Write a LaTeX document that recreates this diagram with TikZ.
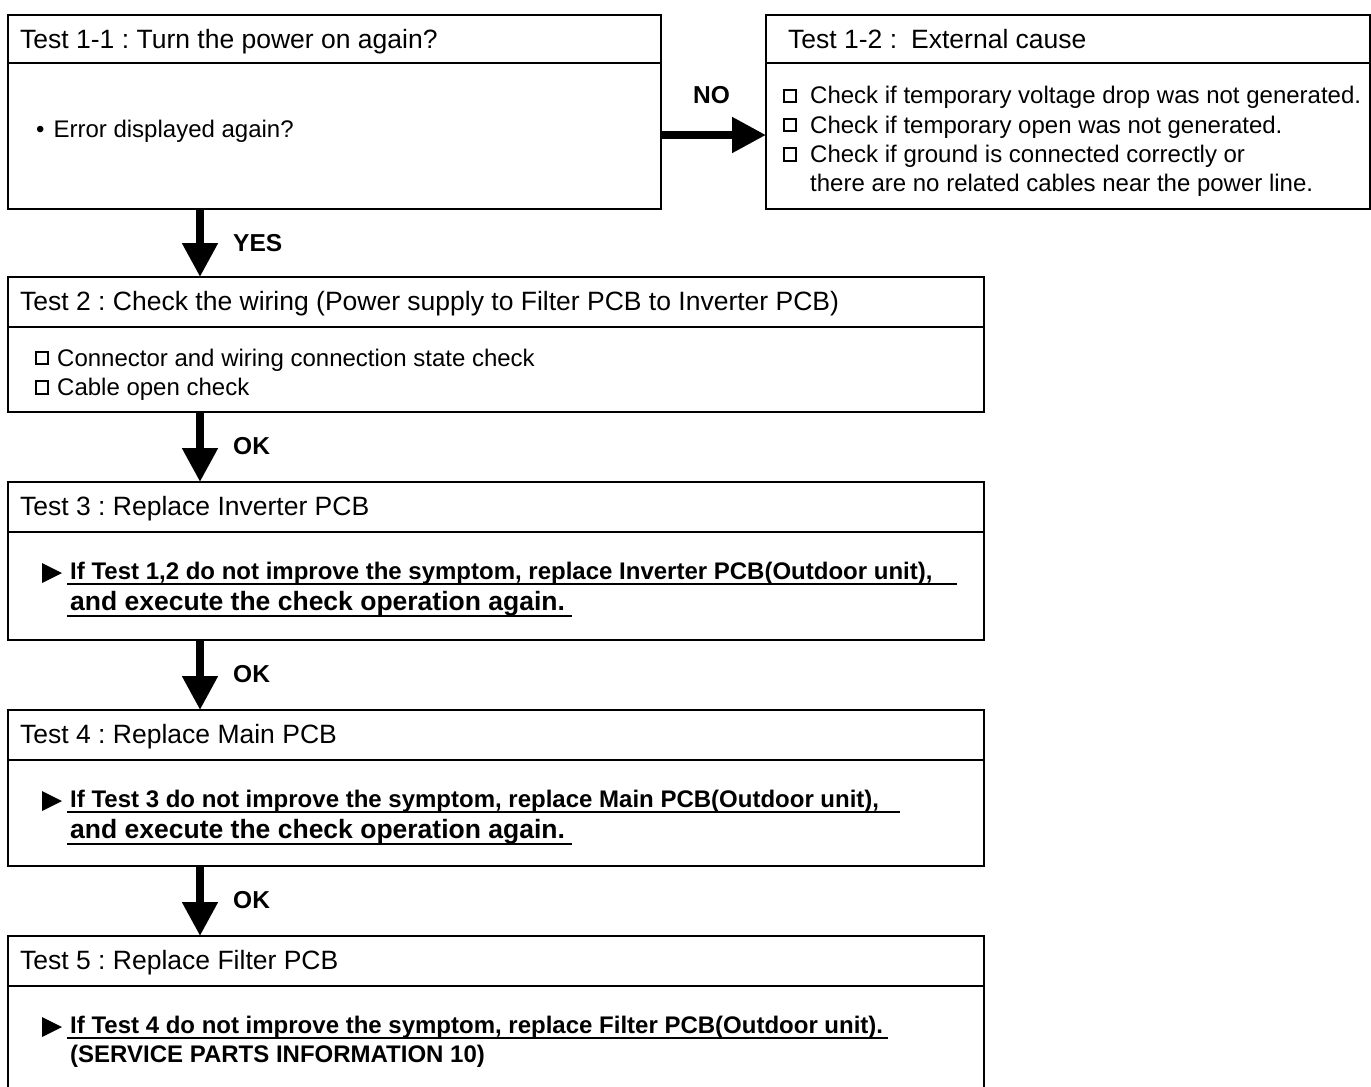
\documentclass[tikz,border=0pt]{standalone}
\usepackage{fontspec}
\setmainfont{Liberation Sans}
\usetikzlibrary{arrows.meta}
\frenchspacing
\begin{document}
\frenchspacing
\begin{tikzpicture}[x=1pt,y=-1pt,
  box/.style={draw, line width=1.6pt, anchor=north west, inner sep=0pt, outer sep=0pt},
  ttl/.style={anchor=base west, inner sep=0pt, font=\fontsize{26.5}{30}\selectfont},
  txt/.style={anchor=base west, inner sep=0pt, font=\fontsize{24}{28}\selectfont},
  bld/.style={anchor=base west, inner sep=0pt, font=\bfseries\fontsize{24}{28}\selectfont},
  bldl/.style={anchor=base west, inner sep=0pt, font=\bfseries\fontsize{26.5}{30}\selectfont},
  lbl/.style={anchor=base west, inner sep=0pt, font=\bfseries\fontsize{24.5}{28}\selectfont},
  bigarrow/.style={line width=8pt, -{Triangle[width=34pt,length=34pt]}},
  sep/.style={line width=1.6pt},
  uline/.style={line width=1.6pt},
  chk/.style={draw, line width=2.2pt, minimum size=12.5pt, inner sep=0pt, anchor=center}
]
\useasboundingbox (0,0) rectangle (1371,1087);

% ---- boxes
\node[box, minimum width=653pt, minimum height=194pt] (b11) at (8,15) {};
\node[box, minimum width=604pt, minimum height=194pt] (b12) at (766,15) {};
\node[box, minimum width=976pt, minimum height=135pt] (b2) at (8,277) {};
\node[box, minimum width=976pt, minimum height=158pt] (b3) at (8,482) {};
\node[box, minimum width=976pt, minimum height=156pt] (b4) at (8,710) {};
\node[box, minimum width=976pt, minimum height=170pt] (b5) at (8,936) {};

% ---- header separators
\draw[sep] (b11.west |- 0,63) -- (b11.east |- 0,63);
\draw[sep] (b12.west |- 0,63) -- (b12.east |- 0,63);
\draw[sep] (b2.west |- 0,327) -- (b2.east |- 0,327);
\draw[sep] (b3.west |- 0,532) -- (b3.east |- 0,532);
\draw[sep] (b4.west |- 0,760) -- (b4.east |- 0,760);
\draw[sep] (b5.west |- 0,986) -- (b5.east |- 0,986);

% ---- box 1-1
\node[ttl] (t11) at (20,48) {Test 1-1 : Turn the power on again?};
\node[txt] (e11) at (36,137) {\textbullet\hspace{9pt}Error displayed again?};

% ---- box 1-2
\node[ttl] (t12) at (788,48) {Test 1-2 :\hspace{14pt}External cause};
\node[chk] (c1) at (790,96) {};
\node[chk] (c2) at (790,125) {};
\node[chk] (c3) at (790,154.5) {};
\node[txt] (l1) at (810,103.5) {Check if temporary voltage drop was not generated.};
\node[txt] (l2) at (810,133) {Check if temporary open was not generated.};
\node[txt] (l3) at (810,162) {Check if ground is connected correctly or};
\node[txt] (l4) at (810,191) {there are no related cables near the power line.};

% ---- box 2
\node[ttl] (t2) at (20,310) {Test 2 : Check the wiring (Power supply to Filter PCB to Inverter PCB)};
\node[chk] (c4) at (42,358) {};
\node[chk] (c5) at (42,387.5) {};
\node[txt] (l5) at (57,366) {Connector and wiring connection state check};
\node[txt] (l6) at (57,395) {Cable open check};

% ---- box 3
\node[ttl] (t3) at (20,515) {Test 3 : Replace Inverter PCB};
\fill (42,563) -- (62,573) -- (42,583) -- cycle;
\node[bld] (l7) at (70,579) {If Test 1,2 do not improve the symptom, replace Inverter PCB(Outdoor unit),};
\node[bldl] (l8) at (70,610) {and execute the check operation again.};
\draw[uline] (67,584) -- (957,584);
\draw[uline] (67,616) -- (572,616);

% ---- box 4
\node[ttl] (t4) at (20,743) {Test 4 : Replace Main PCB};
\fill (42,791) -- (62,801) -- (42,811) -- cycle;
\node[bld] (l9) at (70,807) {If Test 3 do not improve the symptom, replace Main PCB(Outdoor unit),};
\node[bldl] (l10) at (70,838) {and execute the check operation again.};
\draw[uline] (67,812) -- (900,812);
\draw[uline] (67,844) -- (572,844);

% ---- box 5
\node[ttl] (t5) at (20,969) {Test 5 : Replace Filter PCB};
\fill (42,1017) -- (62,1027) -- (42,1037) -- cycle;
\node[bld] (l11) at (70,1033) {If Test 4 do not improve the symptom, replace Filter PCB(Outdoor unit).};
\node[bld] (l12) at (70,1062) {(SERVICE PARTS INFORMATION 10)};
\draw[uline] (67,1038) -- (888,1038);

% ---- connectors
\coordinate (ax) at (200,0);
\coordinate (ay) at (0,135);
\draw[bigarrow] (b11.east |- ay) -- (b12.west |- ay);
\draw[bigarrow] (b11.south -| ax) -- (b2.north -| ax);
\draw[bigarrow] (b2.south -| ax) -- (b3.north -| ax);
\draw[bigarrow] (b3.south -| ax) -- (b4.north -| ax);
\draw[bigarrow] (b4.south -| ax) -- (b5.north -| ax);

% ---- labels
\node[lbl] (no) at (693,103) {NO};
\node[lbl] (yes) at (233,251) {YES};
\node[lbl] (ok1) at (233,454) {OK};
\node[lbl] (ok2) at (233,682) {OK};
\node[lbl] (ok3) at (233,908) {OK};
\end{tikzpicture}
\end{document}
